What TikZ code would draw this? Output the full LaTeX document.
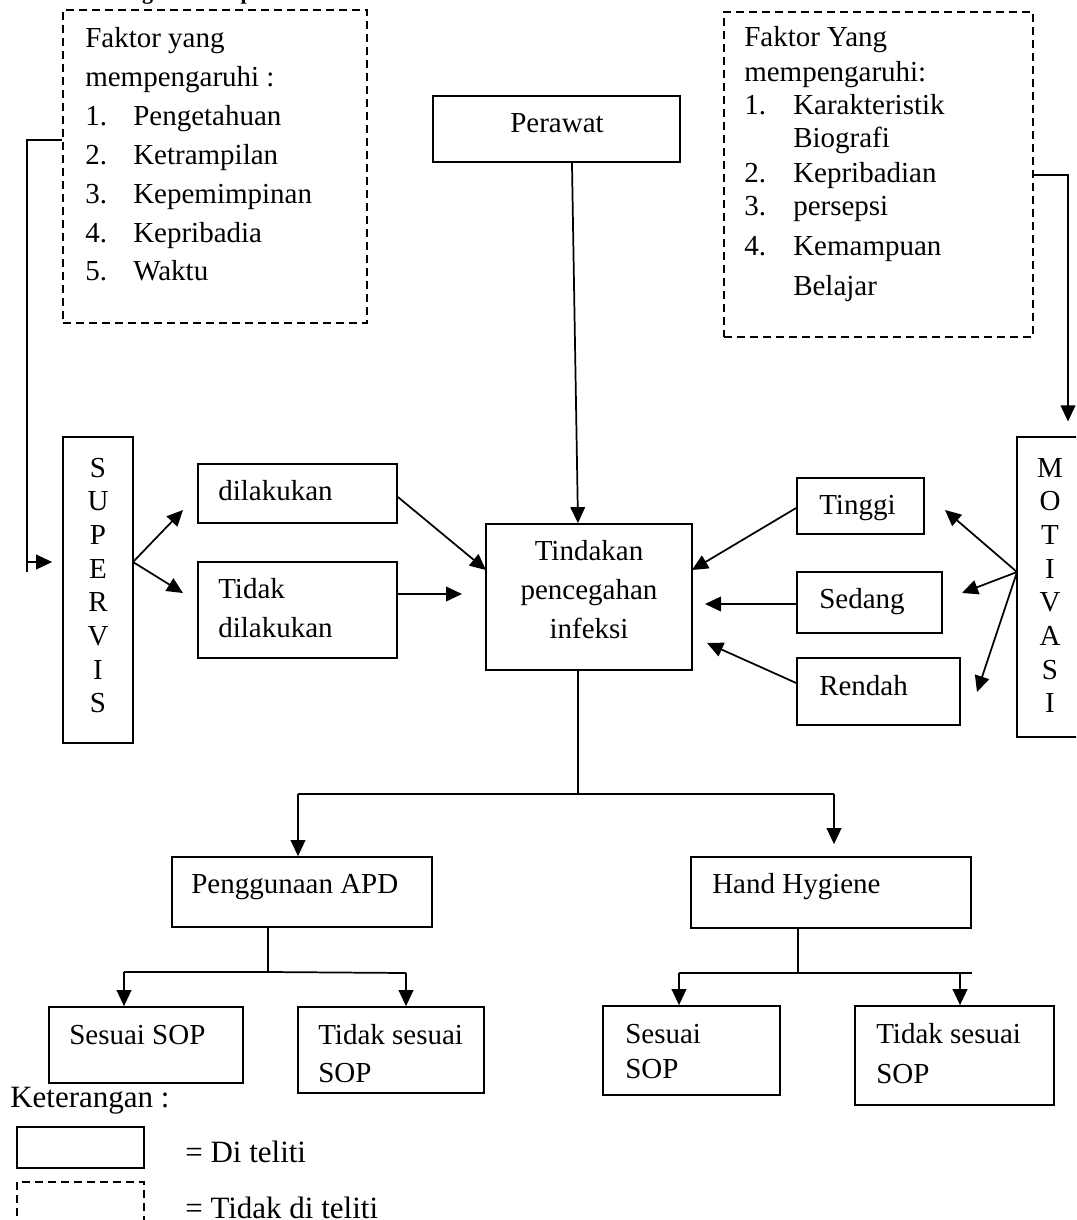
\documentclass[tikz,border=0pt]{standalone}
\usepackage{fontspec}
\setmainfont{Liberation Serif}
\usetikzlibrary{arrows.meta,fit}
\begin{document}
\begin{tikzpicture}[x=0.75pt,y=-0.75pt,
  box/.style={draw, line width=1.3pt, inner sep=0pt},
  dbox/.style={draw, line width=1.3pt, dash pattern=on 6pt off 3.75pt, inner sep=0pt},
  txt/.style={anchor=base west, inner sep=0pt, font=\fontsize{21.75pt}{26pt}\selectfont},
  ctxt/.style={txt, anchor=base},
  ltxt/.style={txt, font=\fontsize{23.25pt}{28pt}\selectfont},
  ln/.style={line width=1.3pt},
  arr/.style={ln, -{Triangle[length=12pt,width=11pt]}}]
\useasboundingbox (0,0) rectangle (1076,1220);
\clip (0,0) rectangle (1076,1220);

% clipped title
\node[anchor=base west, inner sep=0pt, font=\fontsize{16.5pt}{20pt}\selectfont\bfseries] (title) at (82,0) {Kerangka Konsep};

% boxes
\node[dbox, fit={(63,10) (367,323)}] (lfak) {};
\node[dbox, fit={(724,12) (1033,337)}] (rfak) {};
\node[box, fit={(433,96) (680,162)}] (perawat) {};
\node[box, fit={(63,437) (133,743)}] (superv) {};
\node[box, fit={(1017,437) (1080,737)}] (motiv) {};
\node[box, fit={(198,464) (397,523)}] (dilak) {};
\node[box, fit={(198,562) (397,658)}] (tidak) {};
\node[box, fit={(486,524) (692,670)}] (tindak) {};
\node[box, fit={(797,478) (924,534)}] (tinggi) {};
\node[box, fit={(797,572) (942,633)}] (sedang) {};
\node[box, fit={(797,658) (960,725)}] (rendah) {};
\node[box, fit={(172,857) (432,927)}] (apd) {};
\node[box, fit={(691,857) (971,928)}] (hh) {};
\node[box, fit={(49,1007) (243,1083)}] (s1) {};
\node[box, fit={(298,1007) (484,1093)}] (ts1) {};
\node[box, fit={(603,1006) (780,1095)}] (s2) {};
\node[box, fit={(855,1006) (1054,1105)}] (ts2) {};
\node[box, fit={(17,1127) (144,1168)}] (lg1) {};
\node[dbox, fit={(17,1182) (144,1240)}] (lg2) {};

% left list
\node[txt] (lf1) at (85,48) {Faktor yang};
\node[txt] (lf2) at (85,87) {mempengaruhi :};
\node[txt] (lf3) at (85,126) {\makebox[36pt][l]{1.}Pengetahuan};
\node[txt] (lf4) at (85,165) {\makebox[36pt][l]{2.}Ketrampilan};
\node[txt] (lf5) at (85,203) {\makebox[36pt][l]{3.}Kepemimpinan};
\node[txt] (lf6) at (85,242) {\makebox[36pt][l]{4.}Kepribadia};
\node[txt] (lf7) at (85,280) {\makebox[36pt][l]{5.}Waktu};

% right list
\node[txt] (rf1) at (744,47) {Faktor Yang};
\node[txt] (rf2) at (744,82) {mempengaruhi:};
\node[txt] (rf3) at (744,115) {\makebox[36.75pt][l]{1.}Karakteristik};
\node[txt] (rf4) at (793,148) {Biografi};
\node[txt] (rf5) at (744,183) {\makebox[36.75pt][l]{2.}Kepribadian};
\node[txt] (rf6) at (744,215) {\makebox[36.75pt][l]{3.}persepsi};
\node[txt] (rf7) at (744,255) {\makebox[36.75pt][l]{4.}Kemampuan};
\node[txt] (rf8) at (793,295) {Belajar};

% vertical words
\foreach \c [count=\i] in {S,U,P,E,R,V,I,S}
  \node[ctxt] (sv\i) at (98,{477+(\i-1)*33.7}) {\c};
\foreach \c [count=\i] in {M,O,T,I,V,A,S,I}
  \node[ctxt] (mv\i) at (1050,{477+(\i-1)*33.7}) {\c};

% texts in boxes
\node[ctxt] (tper) at (557,133) {Perawat};
\node[txt] (tdil) at (218,500) {dilakukan};
\node[txt] (ttd1) at (218,598) {Tidak};
\node[txt] (ttd2) at (218,637) {dilakukan};
\node[ctxt] (tti1) at (589,560) {Tindakan};
\node[ctxt] (tti2) at (589,599) {pencegahan};
\node[ctxt] (tti3) at (589,638) {infeksi};
\node[txt] (ttin) at (819,514) {Tinggi};
\node[txt] (tsed) at (819,608) {Sedang};
\node[txt] (tren) at (819,695) {Rendah};
\node[txt] (tapd) at (191,893) {Penggunaan APD};
\node[txt] (thh) at (712,893) {Hand Hygiene};
\node[txt] (ts1a) at (69,1044) {Sesuai SOP};
\node[txt] (tts1a) at (318,1044) {Tidak sesuai};
\node[txt] (tts1b) at (318,1082) {SOP};
\node[txt] (ts2a) at (625,1043) {Sesuai};
\node[txt] (ts2b) at (625,1078) {SOP};
\node[txt] (tts2a) at (876,1043) {Tidak sesuai};
\node[txt] (tts2b) at (876,1083) {SOP};

% legend
\node[ltxt] (ket) at (10,1107) {Keterangan :};
\node[ltxt] (kd1) at (185,1162) {= Di teliti};
\node[ltxt] (kd2) at (185,1218) {= Tidak di teliti};

% connectors
\draw[arr] ([xshift=11.6pt]perawat.south) -- ([xshift=-8.25pt]tindak.north);

\coordinate (lj) at (27,140);
\coordinate (lb) at (27,572);
\coordinate (la) at (27,562);
\draw[ln] (lj -| lfak.west) -- (lj) -- (lb);
\draw[arr, shorten >=7.5pt] (la) -- (la -| superv.west);

\coordinate (rj) at (1068,175);
\draw[arr, shorten >=11pt] (rj -| rfak.east) -- (rj) -- (rj |- motiv.north);

\coordinate (so) at (133,562);
\coordinate (st1) at (183,510);
\coordinate (st2) at (183,593);
\draw[arr] (so) -- (st1);
\draw[arr] (so) -- (st2);

\coordinate (tk1) at (486,570);
\coordinate (tk2) at (462,594);
\coordinate (tk3) at (692,570);
\coordinate (tk4) at (705,604);
\coordinate (tk5) at (707,643);
\draw[arr] ([yshift=-2.6pt]dilak.east) -- (tk1);
\draw[arr] (tidak.east |- tk2) -- (tk2);
\draw[arr] ([yshift=-1.5pt]tinggi.west) -- (tk3);
\draw[arr] (sedang.west |- tk4) -- (tk4);
\draw[arr] ([yshift=6.4pt]rendah.west) -- (tk5);

\coordinate (mo) at (1017,572);
\coordinate (mt1) at (945,510);
\coordinate (mt2) at (962,593);
\coordinate (mt3) at (977,692);
\draw[arr] (mo) -- (mt1);
\draw[arr] (mo) -- (mt2);
\draw[arr] (mo) -- (mt3);

\coordinate (hb) at (578,794);
\coordinate (hl) at (298,794);
\coordinate (hr) at (834,794);
\draw[ln] ([xshift=-8.25pt]tindak.south) -- (hb);
\draw[ln] (hl) -- (hr);
\draw[arr] (hl) -- (hl |- apd.north);
\draw[arr, shorten >=9pt] (hr) -- (hr |- hh.north);

\coordinate (am) at (268,972);
\coordinate (al) at (124,972);
\coordinate (ar) at (406,973);
\draw[ln] ([xshift=-25.5pt]apd.south) -- (am);
\draw[ln] (al) -- (am) -- (ar);
\draw[arr] (al) -- (al |- s1.north);
\draw[arr] (ar) -- (ar |- ts1.north);

\coordinate (hm) at (798,973);
\coordinate (hl2) at (679,973);
\coordinate (hr2) at (972,973);
\coordinate (ha2) at (960,973);
\draw[ln] ([xshift=-24.75pt]hh.south) -- (hm);
\draw[ln] (hl2) -- (hr2);
\draw[arr] (hl2) -- (hl2 |- s2.north);
\draw[arr] (ha2) -- (ha2 |- ts2.north);
\end{tikzpicture}
\end{document}
